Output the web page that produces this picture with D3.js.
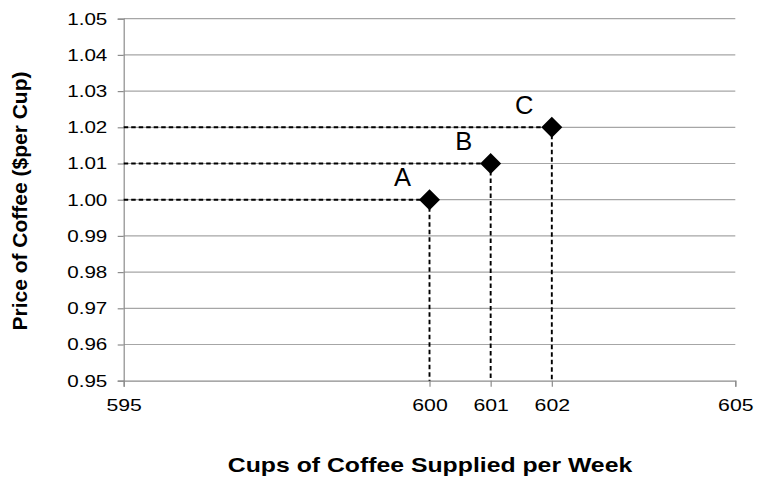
<!DOCTYPE html>
<html><head><meta charset="utf-8">
<script src="https://cdn.jsdelivr.net/npm/d3@7"></script>
<style>body{margin:0;background:#fff;}svg{display:block;font-family:"Liberation Sans",Arial,sans-serif;}</style>
</head><body>
<svg id="c" width="758" height="477"></svg>
<script>
const labels = ["A","B","C"];
const quantities = [600, 601, 602];
const prices = [1.00, 1.01, 1.02];
const xTicks = [595, 600, 601, 602, 605];
const yTicks = [0.95,0.96,0.97,0.98,0.99,1.00,1.01,1.02,1.03,1.04,1.05];

const svg = d3.select("#c");
const L = 123.7, R = 735.3, T = 18.7, B = 380.7;
const SX = 1.25;
const FF = "Liberation Sans, Arial, sans-serif";
const x = d3.scaleLinear().domain([595,605]).range([L,R]);
const y = d3.scaleLinear().domain([0.95,1.05]).range([B,T]);

// gridlines
svg.append("g").selectAll("line").data(yTicks.slice(1)).join("line")
  .attr("x1",L).attr("x2",R).attr("y1",d=>y(d)).attr("y2",d=>y(d))
  .attr("stroke","#a6a6a6").attr("stroke-width",1.2);

// y axis
const ya = svg.append("g").attr("transform",`translate(${L},0)`)
  .call(d3.axisLeft(y).tickValues(yTicks).tickFormat(d3.format(".2f")).tickSize(6));
ya.select(".domain").attr("stroke","#8c8c8c").attr("stroke-width",1.2);
ya.selectAll(".tick line").attr("stroke","#8c8c8c").attr("stroke-width",1.2);
ya.selectAll("text").attr("font-size",16.5).attr("fill","#000").attr("font-family",FF)
  .attr("x",-16.4/SX).attr("dy","0.33em").attr("transform",`scale(${SX},1)`);

// x axis
const xa = svg.append("g").attr("transform",`translate(0,${B})`)
  .call(d3.axisBottom(x).tickValues(xTicks).tickFormat(d3.format("d")).tickSize(6));
xa.select(".domain").attr("stroke","#8c8c8c").attr("stroke-width",1.2);
xa.selectAll(".tick line").attr("stroke","#8c8c8c").attr("stroke-width",1.2);
xa.selectAll("text").attr("font-size",17).attr("fill","#000").attr("font-family",FF)
  .attr("y",30).attr("dy",0).attr("transform",`scale(${SX},1)`);

const pts = labels.map((l,i)=>({l, q:quantities[i], p:prices[i]}));

// dashed guides
const g = svg.append("g");
g.selectAll("line.h").data(pts).join("line").attr("class","h")
  .attr("x1",L).attr("x2",d=>x(d.q)).attr("y1",d=>y(d.p)).attr("y2",d=>y(d.p))
  .attr("stroke","#000").attr("stroke-width",1.9).attr("stroke-dasharray","4.5,3");
g.selectAll("line.v").data(pts).join("line").attr("class","v")
  .attr("x1",d=>x(d.q)).attr("x2",d=>x(d.q)).attr("y1",d=>y(d.p)).attr("y2",B)
  .attr("stroke","#000").attr("stroke-width",1.9).attr("stroke-dasharray","4.5,3");

// diamonds
g.selectAll("path.pt").data(pts).join("path").attr("class","pt")
  .attr("transform",d=>`translate(${x(d.q)},${y(d.p)})`)
  .attr("d","M0,-10.5L10.5,0L0,10.5L-10.5,0Z").attr("fill","#000");

// labels
g.selectAll("text.lbl").data(pts).join("text").attr("class","lbl")
  .attr("x",d=>x(d.q)-18.5).attr("y",d=>y(d.p)-13.7)
  .attr("text-anchor","end").attr("font-size",25.5).attr("fill","#000").text(d=>d.l);

// axis titles
svg.append("text").attr("transform",`translate(430,472) scale(1.24,1)`).attr("text-anchor","middle")
  .attr("font-size",20).attr("font-weight","bold").text("Cups of Coffee Supplied per Week");
svg.append("text").attr("transform",`translate(27,201) rotate(-90)`).attr("text-anchor","middle")
  .attr("font-size",21).attr("font-weight","bold").text("Price of Coffee ($per Cup)");
</script>
</body></html>
